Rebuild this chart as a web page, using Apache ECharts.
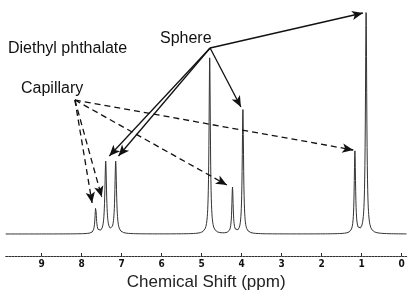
<!DOCTYPE html>
<html><head><meta charset="utf-8">
<script src="https://cdn.jsdelivr.net/npm/echarts@6/dist/echarts.min.js"></script>
<style>html,body{margin:0;padding:0;background:#fff}#c{width:415px;height:304px}</style>
</head><body><div id="c"></div>
<script>
// Peak list (ppm, height in px above baseline, half width ppm)
const peakShift  = [7.65, 7.40, 7.15, 4.80, 4.23, 3.97, 1.17, 0.89];
const peakHeight = [26,   72,   72,   176,  46,   124,  82,   221];
const peakWidth  = [0.022, 0.025, 0.025, 0.02, 0.02, 0.02, 0.02, 0.02];
const tickValues = [0,1,2,3,4,5,6,7,8,9];
const xMin = -0.125, xMax = 9.9;

// annotation arrows (data coordinates)
const sphereFrom = [4.79, 186];
const sphereTo = [[0.97,221],[4.02,127],[7.31,78],[7.08,78]];
const capFrom = [8.17, 134];
const capTo = [[1.21,84],[4.37,49],[7.74,31],[7.50,37]];

const spectrum = [];
for (let i = 0; i <= 2005; i++) {
  const x = xMax - i * 0.005;
  let y = 0;
  for (let k = 0; k < peakShift.length; k++) {
    const d = x - peakShift[k], g = peakWidth[k];
    y += peakHeight[k] * g * g / (d * d + g * g);
  }
  spectrum.push([x, y]);
}

function arrows(from, tos, dashed) {
  return tos.map(t => [
    {coord: from, symbol: 'none', lineStyle: {type: dashed ? [6,4] : 'solid', width: 1.3, color: '#111'}},
    {coord: t, symbol: 'arrow', symbolSize: [7,11]}
  ]);
}

const chart = echarts.init(document.getElementById('c'), null, {renderer: 'canvas'});
chart.setOption({
  animation: false,
  backgroundColor: '#fff',
  grid: {left: 5.7, right: 8.3, top: 0, bottom: 48},
  xAxis: {
    type: 'value', inverse: true, min: xMin, max: xMax,
    axisLine: {show: true, onZero: false, lineStyle: {color: '#333', width: 1, type: [2,1]}},
    axisTick: {show: true, inside: true, length: 3, customValues: tickValues, lineStyle: {color: '#222'}},
    axisLabel: {customValues: tickValues, margin: 3, fontFamily: 'DejaVu Sans Condensed', fontWeight: 'bold', fontSize: 10, color: '#111'},
    splitLine: {show: false},
    name: 'Chemical Shift (ppm)', nameLocation: 'middle', nameGap: 16,
    nameTextStyle: {fontFamily: 'Liberation Sans', fontSize: 17, color: '#222'}
  },
  yAxis: {type: 'value', min: -22, max: 234, show: false},
  series: [{
    type: 'line', data: spectrum, showSymbol: false, symbol: 'none',
    lineStyle: {color: '#333', width: 1}, silent: true,
    markLine: {
      silent: true, animation: false,
      label: {show: false},
      data: arrows(sphereFrom, sphereTo, false).concat(arrows(capFrom, capTo, true))
    }
  }],
  graphic: [
    {type: 'text', left: 8, top: 41, style: {text: 'Diethyl phthalate', font: '16px "Liberation Sans"', fill: '#111'}},
    {type: 'text', left: 21, top: 81, style: {text: 'Capillary', font: '16px "Liberation Sans"', fill: '#111'}},
    {type: 'text', left: 160, top: 31, style: {text: 'Sphere', font: '16px "Liberation Sans"', fill: '#111'}}
  ]
});
</script></body></html>
